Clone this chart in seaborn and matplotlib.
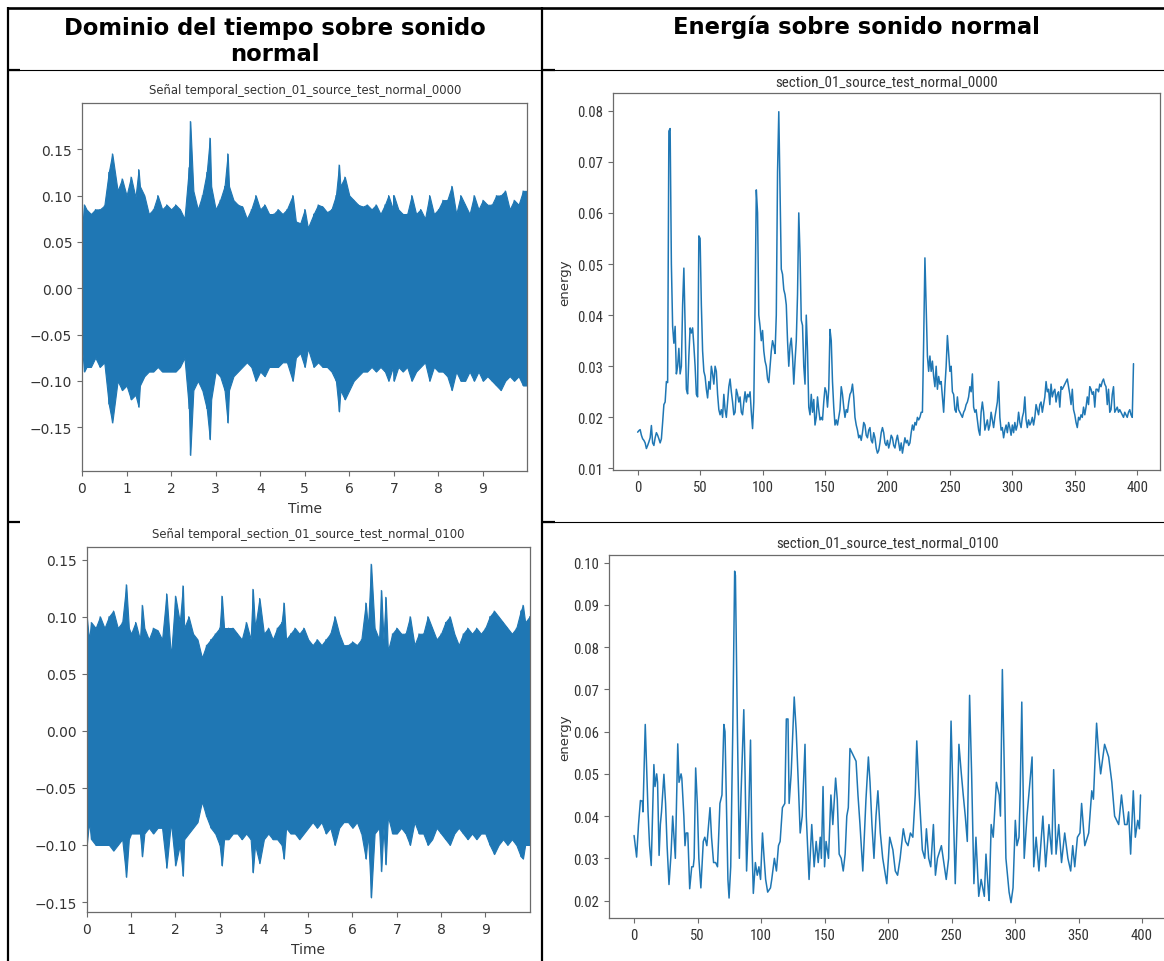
import numpy as np
import pandas as pd
import matplotlib
matplotlib.use("Agg")
import matplotlib.pyplot as plt
from matplotlib.lines import Line2D
import seaborn as sns

W, H = 1164, 962
BLUE = "#1f77b4"

# ---------------- text -----------------
header_left = "Dominio del tiempo sobre sonido\nnormal"
header_right = "Energía sobre sonido normal"
title_wave1 = "Señal temporal_section_01_source_test_normal_0000"
title_wave2 = "Señal temporal_section_01_source_test_normal_0100"
title_energy1 = "section_01_source_test_normal_0000"
title_energy2 = "section_01_source_test_normal_0100"
time_ticks = [0, 1, 2, 3, 4, 5, 6, 7, 8, 9]
frame_ticks = [0, 50, 100, 150, 200, 250, 300, 350, 400]

# ---------------- waveform 0000 (envelope) -----------------------------------
wave1_t = [0, 0.05, 0.1, 0.2, 0.3, 0.4, 0.5, 0.6, 0.68, 0.8, 0.9, 1.0, 1.1, 1.2, 1.27, 1.3, 1.4, 1.5,
           1.6, 1.7, 1.8, 1.9, 2.0, 2.1, 2.2, 2.3, 2.4, 2.43, 2.5, 2.6, 2.7, 2.8, 2.87, 2.9, 3.0, 3.1,
           3.2, 3.27, 3.3, 3.4, 3.5, 3.6, 3.7, 3.8, 3.9, 4.0, 4.1, 4.2, 4.3, 4.4, 4.5, 4.6, 4.73, 4.8,
           4.9, 5.0, 5.07, 5.2, 5.3, 5.4, 5.5, 5.6, 5.7, 5.77, 5.8, 5.9, 6.0, 6.1, 6.2, 6.3, 6.4, 6.5,
           6.6, 6.7, 6.8, 6.88, 6.98, 7.0, 7.1, 7.2, 7.3, 7.4, 7.5, 7.6, 7.7, 7.8, 7.9, 8.0, 8.1, 8.2,
           8.3, 8.4, 8.5, 8.6, 8.7, 8.8, 8.9, 9.0, 9.1, 9.2, 9.3, 9.4, 9.5, 9.6, 9.7, 9.8, 9.9, 10.0]
wave1_upper = [0.065, 0.09, 0.085, 0.08, 0.085, 0.085, 0.089, 0.125, 0.145, 0.105, 0.118, 0.1, 0.12, 0.098,
               0.128, 0.11, 0.1, 0.08, 0.085, 0.1, 0.085, 0.09, 0.085, 0.09, 0.085, 0.075, 0.13, 0.18,
               0.105, 0.085, 0.1, 0.125, 0.162, 0.11, 0.085, 0.095, 0.11, 0.145, 0.11, 0.095, 0.09, 0.088,
               0.075, 0.085, 0.1, 0.085, 0.09, 0.08, 0.08, 0.085, 0.08, 0.085, 0.1, 0.072, 0.07, 0.085,
               0.065, 0.08, 0.09, 0.088, 0.082, 0.085, 0.1, 0.133, 0.11, 0.12, 0.1, 0.095, 0.09, 0.088,
               0.09, 0.085, 0.09, 0.08, 0.09, 0.1, 0.085, 0.1, 0.085, 0.08, 0.08, 0.1, 0.08, 0.085, 0.075,
               0.1, 0.08, 0.085, 0.095, 0.095, 0.11, 0.08, 0.1, 0.09, 0.08, 0.1, 0.085, 0.095, 0.09, 0.09,
               0.1, 0.1, 0.105, 0.085, 0.095, 0.09, 0.105, 0.105]
wave1_lower = [-0.065, -0.09, -0.085, -0.085, -0.075, -0.085, -0.08, -0.125, -0.145, -0.1, -0.11, -0.105,
               -0.12, -0.115, -0.128, -0.105, -0.095, -0.09, -0.09, -0.085, -0.09, -0.09, -0.09, -0.09,
               -0.085, -0.075, -0.13, -0.18, -0.11, -0.1, -0.11, -0.13, -0.163, -0.12, -0.09, -0.095,
               -0.11, -0.145, -0.11, -0.095, -0.09, -0.085, -0.08, -0.085, -0.1, -0.09, -0.095, -0.085,
               -0.085, -0.085, -0.08, -0.08, -0.1, -0.075, -0.07, -0.085, -0.065, -0.085, -0.08, -0.085,
               -0.085, -0.09, -0.1, -0.133, -0.11, -0.12, -0.11, -0.1, -0.095, -0.09, -0.09, -0.085, -0.09,
               -0.085, -0.09, -0.1, -0.085, -0.1, -0.085, -0.09, -0.085, -0.1, -0.09, -0.085, -0.08, -0.1,
               -0.085, -0.09, -0.09, -0.095, -0.11, -0.09, -0.1, -0.1, -0.09, -0.1, -0.09, -0.1, -0.095,
               -0.1, -0.105, -0.11, -0.1, -0.095, -0.1, -0.095, -0.105, -0.105]

# ---------------- waveform 0100 -----------------
wave2_t = [0, 0.05, 0.1, 0.2, 0.3, 0.4, 0.5, 0.6, 0.7, 0.8, 0.89, 0.95, 1.0, 1.1, 1.2, 1.25, 1.3, 1.4, 1.5,
           1.6, 1.7, 1.8, 1.9, 2.0, 2.1, 2.17, 2.2, 2.3, 2.4, 2.5, 2.6, 2.7, 2.8, 2.9, 3.0, 3.05, 3.1,
           3.2, 3.3, 3.4, 3.5, 3.6, 3.7, 3.75, 3.8, 3.9, 4.0, 4.1, 4.2, 4.3, 4.4, 4.45, 4.5, 4.6, 4.7,
           4.8, 4.9, 5.0, 5.1, 5.2, 5.3, 5.4, 5.5, 5.6, 5.7, 5.8, 5.9, 6.0, 6.1, 6.2, 6.3, 6.35, 6.42,
           6.5, 6.6, 6.65, 6.7, 6.75, 6.8, 6.9, 7.0, 7.1, 7.2, 7.3, 7.4, 7.5, 7.6, 7.7, 7.8, 7.9, 8.0,
           8.1, 8.2, 8.3, 8.4, 8.5, 8.6, 8.7, 8.8, 8.9, 9.0, 9.1, 9.2, 9.3, 9.4, 9.5, 9.6, 9.7, 9.8,
           9.85, 9.9, 10.0]
wave2_upper = [0.1, 0.08, 0.095, 0.09, 0.1, 0.09, 0.1, 0.105, 0.09, 0.095, 0.128, 0.09, 0.085, 0.095, 0.08,
               0.11, 0.09, 0.08, 0.09, 0.088, 0.08, 0.12, 0.065, 0.118, 0.095, 0.127, 0.09, 0.1, 0.085,
               0.08, 0.064, 0.075, 0.08, 0.085, 0.09, 0.118, 0.09, 0.09, 0.09, 0.085, 0.08, 0.095, 0.08,
               0.124, 0.09, 0.116, 0.085, 0.09, 0.08, 0.09, 0.095, 0.112, 0.08, 0.085, 0.09, 0.085, 0.09,
               0.08, 0.075, 0.08, 0.075, 0.08, 0.085, 0.1, 0.085, 0.075, 0.075, 0.078, 0.075, 0.08, 0.112,
               0.09, 0.146, 0.09, 0.08, 0.123, 0.08, 0.117, 0.07, 0.085, 0.09, 0.085, 0.085, 0.1, 0.075,
               0.085, 0.085, 0.1, 0.09, 0.08, 0.085, 0.095, 0.1, 0.085, 0.075, 0.085, 0.09, 0.085, 0.09,
               0.085, 0.09, 0.1, 0.105, 0.1, 0.095, 0.09, 0.085, 0.09, 0.105, 0.11, 0.095, 0.1]
wave2_lower = [-0.1, -0.08, -0.095, -0.1, -0.1, -0.1, -0.1, -0.105, -0.1, -0.095, -0.128, -0.095, -0.09,
               -0.09, -0.09, -0.11, -0.09, -0.085, -0.09, -0.085, -0.085, -0.12, -0.08, -0.118, -0.1,
               -0.127, -0.095, -0.09, -0.085, -0.08, -0.062, -0.075, -0.085, -0.09, -0.1, -0.118, -0.095,
               -0.095, -0.09, -0.09, -0.095, -0.09, -0.095, -0.124, -0.1, -0.116, -0.095, -0.09, -0.095,
               -0.095, -0.1, -0.112, -0.085, -0.09, -0.09, -0.095, -0.09, -0.085, -0.08, -0.085, -0.08,
               -0.09, -0.085, -0.1, -0.085, -0.08, -0.08, -0.085, -0.08, -0.09, -0.112, -0.09, -0.146,
               -0.09, -0.085, -0.123, -0.085, -0.117, -0.075, -0.09, -0.09, -0.085, -0.09, -0.1, -0.08,
               -0.09, -0.09, -0.1, -0.095, -0.085, -0.09, -0.095, -0.1, -0.09, -0.085, -0.09, -0.095,
               -0.09, -0.095, -0.09, -0.09, -0.1, -0.108, -0.1, -0.095, -0.1, -0.095, -0.1, -0.11, -0.112,
               -0.1, -0.1]

# ---------------- energy 0000 -----------------
energy1_x = list(range(0, 398))
energy1_y = [
    0.0171, 0.0174, 0.0176, 0.0165, 0.0158, 0.0155, 0.0150, 0.0139, 0.0145, 0.0152,
    0.0160, 0.0184, 0.0150, 0.0145, 0.0160, 0.0170, 0.0165, 0.0158, 0.0150, 0.0158,
    0.0190, 0.0225, 0.0230, 0.0270, 0.0268, 0.0760, 0.0765, 0.0500, 0.0378, 0.0345,
    0.0378, 0.0285, 0.0300, 0.0335, 0.0285, 0.0300, 0.0420, 0.0492, 0.0380, 0.0255,
    0.0246, 0.0320, 0.0375, 0.0365, 0.0375, 0.0340, 0.0300, 0.0245, 0.0240, 0.0555,
    0.0550, 0.0420, 0.0330, 0.0290, 0.0280, 0.0255, 0.0238, 0.0270, 0.0255, 0.0300,
    0.0285, 0.0265, 0.0300, 0.0290, 0.0245, 0.0215, 0.0205, 0.0215, 0.0200, 0.0245,
    0.0215, 0.0200, 0.0230, 0.0260, 0.0275, 0.0250, 0.0230, 0.0205, 0.0210, 0.0255,
    0.0245, 0.0230, 0.0240, 0.0210, 0.0205, 0.0230, 0.0250, 0.0230, 0.0245, 0.0240,
    0.0250, 0.0210, 0.0178, 0.0230, 0.0420, 0.0645, 0.0600, 0.0400, 0.0378, 0.0350,
    0.0370, 0.0330, 0.0310, 0.0300, 0.0275, 0.0268, 0.0300, 0.0330, 0.0350, 0.0340,
    0.0325, 0.0400, 0.0680, 0.0798, 0.0650, 0.0490, 0.0480, 0.0450, 0.0440, 0.0420,
    0.0350, 0.0300, 0.0340, 0.0355, 0.0320, 0.0265, 0.0310, 0.0350, 0.0440, 0.0600,
    0.0520, 0.0390, 0.0380, 0.0300, 0.0265, 0.0400, 0.0330, 0.0220, 0.0205, 0.0245,
    0.0210, 0.0235, 0.0185, 0.0200, 0.0240, 0.0215, 0.0195, 0.0200, 0.0195, 0.0230,
    0.0258, 0.0250, 0.0220, 0.0255, 0.0372, 0.0350, 0.0270, 0.0220, 0.0185, 0.0195,
    0.0185, 0.0200, 0.0215, 0.0260, 0.0245, 0.0220, 0.0200, 0.0215, 0.0210, 0.0230,
    0.0245, 0.0250, 0.0265, 0.0240, 0.0200, 0.0185, 0.0175, 0.0160, 0.0165, 0.0155,
    0.0170, 0.0190, 0.0185, 0.0165, 0.0160, 0.0175, 0.0180, 0.0155, 0.0150, 0.0170,
    0.0160, 0.0140, 0.0130, 0.0135, 0.0150, 0.0170, 0.0180, 0.0170, 0.0150, 0.0145,
    0.0155, 0.0140, 0.0150, 0.0165, 0.0160, 0.0145, 0.0140, 0.0155, 0.0165, 0.0150,
    0.0135, 0.0150, 0.0130, 0.0145, 0.0160, 0.0150, 0.0155, 0.0145, 0.0150, 0.0170,
    0.0185, 0.0175, 0.0190, 0.0185, 0.0200, 0.0195, 0.0200, 0.0210, 0.0210, 0.0350,
    0.0512, 0.0420, 0.0320, 0.0290, 0.0320, 0.0290, 0.0310, 0.0280, 0.0260, 0.0300,
    0.0255, 0.0280, 0.0265, 0.0270, 0.0240, 0.0210, 0.0260, 0.0300, 0.0360, 0.0325,
    0.0290, 0.0300, 0.0250, 0.0245, 0.0215, 0.0210, 0.0240, 0.0215, 0.0210, 0.0205,
    0.0200, 0.0210, 0.0215, 0.0225, 0.0230, 0.0240, 0.0260, 0.0250, 0.0285, 0.0220,
    0.0210, 0.0215, 0.0195, 0.0175, 0.0165, 0.0210, 0.0230, 0.0210, 0.0175, 0.0185,
    0.0195, 0.0175, 0.0185, 0.0210, 0.0195, 0.0180, 0.0200, 0.0215, 0.0230, 0.0270,
    0.0200, 0.0175, 0.0180, 0.0160, 0.0175, 0.0185, 0.0170, 0.0190, 0.0180, 0.0165,
    0.0185, 0.0170, 0.0190, 0.0175, 0.0185, 0.0210, 0.0190, 0.0180, 0.0200, 0.0210,
    0.0240, 0.0195, 0.0180, 0.0195, 0.0185, 0.0190, 0.0200, 0.0185, 0.0200, 0.0225,
    0.0215, 0.0205, 0.0225, 0.0230, 0.0210, 0.0225, 0.0240, 0.0270, 0.0250, 0.0255,
    0.0225, 0.0265, 0.0240, 0.0250, 0.0255, 0.0230, 0.0245, 0.0250, 0.0220, 0.0260,
    0.0255, 0.0260, 0.0265, 0.0270, 0.0275, 0.0260, 0.0245, 0.0225, 0.0255, 0.0215,
    0.0205, 0.0190, 0.0180, 0.0200, 0.0195, 0.0205, 0.0200, 0.0220, 0.0205, 0.0220,
    0.0240, 0.0225, 0.0260, 0.0255, 0.0245, 0.0250, 0.0220, 0.0255, 0.0255, 0.0250,
    0.0265, 0.0260, 0.0270, 0.0275, 0.0265, 0.0260, 0.0225, 0.0255, 0.0210, 0.0215,
    0.0245, 0.0260, 0.0210, 0.0215, 0.0220, 0.0210, 0.0215, 0.0210, 0.0205, 0.0200,
    0.0210, 0.0205, 0.0200, 0.0210, 0.0215, 0.0205, 0.0200, 0.0305]

# ---------------- energy 0100 -----------------
energy2_x = [0, 2, 3.5, 5, 6.5, 7, 8.8, 11, 12.2, 13.5, 15.6, 16.5, 17.8, 18.5, 19.7, 20.7, 21.6, 23.5,
             24.8, 26, 27.5, 29.1, 30.4, 32.5, 34.4, 35.4, 37, 37.6, 39.2, 40.1, 41, 42.3, 43.8, 45.4,
             46.6, 47.3, 48.5, 49.8, 51, 52.6, 54.5, 55.7, 57.3, 59.8, 61, 62.6, 64.2, 65.7, 67.6, 69.2,
             70.7, 71.6, 72.9, 73.9, 74.8, 76.1, 77.7, 79.2, 79.8, 81.4, 82.9, 84.2, 86.4, 87.4, 88.6,
             90.2, 91.7, 92.7, 93.9, 95.5, 97, 98.3, 99.6, 101.1, 102.4, 103.6, 105.2, 107.4, 108.4,
             110.5, 112.1, 113.7, 115, 116.8, 118.7, 119.9, 121.2, 122.1, 123.7, 126.1, 127.7, 129.3,
             130.8, 132.4, 134.6, 135.6, 137.8, 139.9, 141.8, 143.4, 145, 146.6, 147.5, 148.8, 150,
             151.2, 153.1, 155, 156.5, 158.7, 160, 161.5, 163.1, 164.7, 166.2, 167.5, 168.7, 170,
             173.2, 174.8, 176.3, 177.9, 180.1, 182.6, 184.5, 185.8, 187.3, 188.9, 190.5, 192, 193.9,
             195.8, 199, 201.3, 203.8, 205.7, 207.5, 209.5, 212, 213.8, 215.7, 217.6, 219.5, 221.4,
             222.6, 224.2, 225.5, 227, 228.9, 230.2, 232, 233.6, 235.7, 237.3, 238.9, 242, 245.8,
             247.7, 249.6, 251.5, 252.9, 254.5, 255.8, 257.7, 259.2, 260.8, 262.4, 264.2, 265.8,
             267.6, 269.2, 271.4, 273.3, 275.8, 277.1, 279, 279.6, 281.2, 282.8, 285.3, 287.5, 288.5,
             290, 291.6, 292.8, 295.3, 296.8, 298.4, 300.2, 301.5, 303.1, 304, 305.3, 307.2, 309.4,
             313.4, 314.7, 316.6, 318.8, 321.9, 324.1, 326.7, 328.9, 330.4, 332.3, 334.4, 336.6,
             339.1, 341.6, 343.8, 345.4, 347, 349.1, 351.1, 352.4, 354.9, 358, 360.4, 361.7, 364.2,
             365.8, 367.4, 370.5, 373.7, 376.2, 378.4, 381.6, 383.8, 386.3, 388.2, 389.4, 391, 393.1,
             394.7, 396.6, 397.9, 398.8]
energy2_y = [0.0354, 0.0303, 0.0380, 0.0437, 0.0435, 0.0410, 0.0617, 0.0410, 0.0330, 0.0283, 0.0522,
             0.0470, 0.0500, 0.0480, 0.0307, 0.0380, 0.0410, 0.0499, 0.0430, 0.0330, 0.0238, 0.0310,
             0.0400, 0.0300, 0.0571, 0.0480, 0.0500, 0.0490, 0.0400, 0.0330, 0.0360, 0.0360, 0.0228,
             0.0280, 0.0280, 0.0300, 0.0514, 0.0430, 0.0300, 0.0230, 0.0340, 0.0350, 0.0330, 0.0420,
             0.0350, 0.0290, 0.0290, 0.0280, 0.0430, 0.0450, 0.0617, 0.0600, 0.0400, 0.0250, 0.0206,
             0.0280, 0.0600, 0.0980, 0.0970, 0.0600, 0.0300, 0.0450, 0.0652, 0.0500, 0.0270, 0.0400,
             0.0580, 0.0350, 0.0217, 0.0290, 0.0260, 0.0280, 0.0250, 0.0360, 0.0300, 0.0250, 0.0220,
             0.0230, 0.0250, 0.0300, 0.0270, 0.0330, 0.0340, 0.0420, 0.0430, 0.0630, 0.0630, 0.0430,
             0.0500, 0.0682, 0.0600, 0.0480, 0.0360, 0.0400, 0.0570, 0.0400, 0.0250, 0.0380, 0.0280,
             0.0340, 0.0290, 0.0350, 0.0300, 0.0470, 0.0280, 0.0340, 0.0300, 0.0450, 0.0380, 0.0490,
             0.0440, 0.0310, 0.0300, 0.0270, 0.0310, 0.0400, 0.0420, 0.0560, 0.0540, 0.0530, 0.0450,
             0.0380, 0.0270, 0.0440, 0.0540, 0.0480, 0.0380, 0.0300, 0.0400, 0.0460, 0.0360, 0.0300,
             0.0240, 0.0350, 0.0320, 0.0270, 0.0260, 0.0300, 0.0370, 0.0340, 0.0330, 0.0360, 0.0350,
             0.0450, 0.0578, 0.0470, 0.0400, 0.0320, 0.0300, 0.0370, 0.0300, 0.0280, 0.0380, 0.0260,
             0.0300, 0.0330, 0.0250, 0.0300, 0.0625, 0.0400, 0.0240, 0.0400, 0.0570, 0.0500, 0.0450,
             0.0400, 0.0340, 0.0686, 0.0500, 0.0240, 0.0350, 0.0210, 0.0250, 0.0210, 0.0310, 0.0220,
             0.0200, 0.0380, 0.0350, 0.0480, 0.0450, 0.0400, 0.0747, 0.0500, 0.0300, 0.0220, 0.0195,
             0.0230, 0.0390, 0.0330, 0.0350, 0.0450, 0.0670, 0.0300, 0.0400, 0.0540, 0.0280, 0.0350,
             0.0270, 0.0400, 0.0280, 0.0380, 0.0310, 0.0510, 0.0310, 0.0380, 0.0290, 0.0360, 0.0300,
             0.0270, 0.0330, 0.0280, 0.0350, 0.0360, 0.0430, 0.0330, 0.0360, 0.0460, 0.0440, 0.0620,
             0.0550, 0.0500, 0.0570, 0.0540, 0.0480, 0.0400, 0.0380, 0.0450, 0.0380, 0.0380, 0.0410,
             0.0310, 0.0460, 0.0350, 0.0390, 0.0370, 0.0450]

# ---------------- style -----------------
sns.set_style("white")
plt.rcParams.update({
    "font.family": ["DejaVu Sans"],
    "axes.edgecolor": "#6b6b6b",
    "axes.linewidth": 0.9,
    "xtick.bottom": True,
    "ytick.left": True,
    "xtick.color": "#6b6b6b",
    "ytick.color": "#6b6b6b",
    "xtick.labelcolor": "#333333",
    "ytick.labelcolor": "#333333",
    "xtick.major.size": 3.5,
    "ytick.major.size": 3.5,
    "xtick.major.width": 0.8,
    "ytick.major.width": 0.8,
    "axes.labelcolor": "#333333",
})
NARROW = ["Roboto Condensed", "DejaVu Sans"]

fig = plt.figure(figsize=(W / 100, H / 100), dpi=100)
fig.patch.set_facecolor("white")


def add_axes(l, t, r, b):
    return fig.add_axes([l / W, 1 - b / H, (r - l) / W, (b - t) / H])


def fline(x0, y0, x1, y1, lw):
    fig.add_artist(Line2D([x0 / W, x1 / W], [1 - y0 / H, 1 - y1 / H], color="black", lw=lw,
                          transform=fig.transFigure, solid_capstyle="butt"))


def ftext(x, y, s, **kw):
    fig.text(x / W, 1 - y / H, s, ha="center", va="center", **kw)


# ---------------- table frame -----------------
fline(8, 9, W, 9, 1.9)
fline(8, 8, 8, H, 1.6)
fline(542, 8, 542, H, 1.6)
fline(8, 71, W, 71, 0.8)
fline(8, 71, 20, 71, 1.6)
fline(542, 71, 555, 71, 1.6)
fline(542, 522.5, W, 522.5, 0.8)
fline(8, 522.5, 20, 522.5, 1.6)
fline(542, 522.5, 555, 522.5, 1.6)

ftext(275, 41.5, header_left, fontsize=16.3, fontweight="bold", linespacing=1.12,
      family=["DejaVu Sans"], color="black")
ftext(856, 27, header_right, fontsize=16.3, fontweight="bold", family=["DejaVu Sans"], color="black")


# ---------------- waveforms -----------------
def draw_wave(ax, t, up, lo, ylim, title, title_y):
    ax.fill_between(t, lo, up, color=BLUE, lw=0.8, edgecolor=BLUE)
    zig = pd.DataFrame({
        "t": np.repeat(np.asarray(t, float), 2),
        "amp": np.column_stack([up, lo]).ravel(),
    })
    sns.lineplot(data=zig, x="t", y="amp", sort=False, estimator=None, color=BLUE, lw=0.7, ax=ax)
    ax.set_xlim(0, 10)
    ax.set_ylim(*ylim)
    ax.set_xticks(time_ticks)
    ax.set_xlabel("Time", fontsize=10)
    ax.set_ylabel("")
    ax.tick_params(labelsize=10)
    for s in ax.spines.values():
        s.set_visible(True)
    bb = ax.get_position()
    fig.text((bb.x0 + bb.x1) / 2, 1 - title_y / H, title, ha="center", va="center",
             fontsize=8.4, color="#333333")


ax1 = add_axes(82, 104.3, 527.5, 472.3)
draw_wave(ax1, wave1_t, wave1_upper, wave1_lower, (-0.1976, 0.1995), title_wave1, 90.7)
ax3 = add_axes(86.8, 548, 529.6, 913.3)
draw_wave(ax3, wave2_t, wave2_upper, wave2_lower, (-0.159, 0.161), title_wave2, 534.3)


# ---------------- energies -----------------
def draw_energy(ax, x, y, ylim, xlim, title, title_y, lab_x):
    sns.lineplot(x=x, y=y, ax=ax, color=BLUE, lw=1.1, estimator=None, sort=False)
    ax.set_xlim(*xlim)
    ax.set_ylim(*ylim)
    ax.set_xticks(frame_ticks)
    ax.set_xlabel("")
    ax.set_ylabel("energy", fontsize=9.5, family=["DejaVu Sans"])
    ax.yaxis.set_label_coords(lab_x, 0.5)
    for s in ax.spines.values():
        s.set_visible(True)
    for lab in ax.get_xticklabels() + ax.get_yticklabels():
        lab.set_family(NARROW)
        lab.set_fontsize(10.6)
    bb = ax.get_position()
    fig.text((bb.x0 + bb.x1) / 2, 1 - title_y / H, title, ha="center", va="center",
             fontsize=10.8, color="#333333", family=NARROW)


ax2 = add_axes(612.8, 94.3, 1159.6, 471)
draw_energy(ax2, energy1_x, energy1_y, (0.0097, 0.0834), (-19.9, 417.9), title_energy1, 83.3, -0.0765)
ax4 = add_axes(608.8, 555.7, 1165.8, 919.3)
draw_energy(ax4, energy2_x, energy2_y, (0.0158, 0.1019), (-19.9, 418.7), title_energy2, 544.3, -0.068)

fig.savefig("out.png", dpi=100, facecolor="white")
